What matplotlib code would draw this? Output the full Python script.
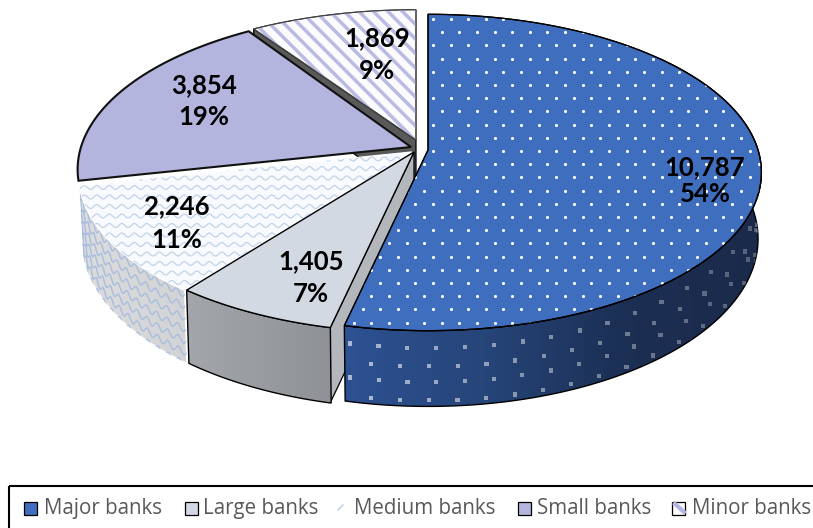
import numpy as np
import matplotlib
matplotlib.use('Agg')
import matplotlib.pyplot as plt
from matplotlib.patches import Polygon, Rectangle
from matplotlib.colors import LinearSegmentedColormap

names = ['Major banks', 'Large banks', 'Medium banks', 'Small banks', 'Minor banks']
values = [10787, 1405, 2246, 3854, 1869]

# tip of each exploded slice, in pixels
apex = {'Major banks': (428, 150), 'Large banks': (414, 152), 'Medium banks': (412, 152),
        'Small banks': (411, 147), 'Minor banks': (416, 140)}
yscale = {'Major banks': 1, 'Large banks': 1, 'Medium banks': 1, 'Small banks': 1, 'Minor banks': 0.96}
label_pos = {'Major banks': (705, 167, 194), 'Large banks': (311, 261, 294), 'Medium banks': (177, 206, 240),
             'Small banks': (204, 85, 117), 'Minor banks': (377, 38, 71)}
legend_x = {'Major banks': 44, 'Large banks': 203, 'Medium banks': 354, 'Small banks': 537, 'Minor banks': 692}
legend_box = {'Major banks': 24, 'Large banks': 185, 'Small banks': 518, 'Minor banks': 672}

RX, RY, K, DEPTH = 330, 155, 0.142, 65

total = sum(values)
angles = np.cumsum([0] + [v / total * 360 for v in values])
start = dict(zip(names, angles[:-1]))
end = dict(zip(names, angles[1:]))

fig = plt.figure(figsize=(8.13, 5.28), dpi=100)
ax = fig.add_axes([0, 0, 1, 1])
z = [10]


def nz():
    z[0] += 1
    return z[0]


def project(theta, name, drop=0.0):
    # clockwise from the top, front of the pie is a bit bigger
    t = np.radians(theta)
    u, v = np.sin(t), -np.cos(t)
    p = 1 / (1 - K * v)
    ax0, ay0 = apex[name]
    return ax0 + RX * u * p * (1 - 0.01 * drop), ay0 + RY * yscale[name] * v * p + DEPTH * p * drop


def top_poly(name):
    th = np.linspace(start[name], end[name], 120)
    x, y = project(th, name)
    return np.vstack([[apex[name]], np.column_stack([x, y])])


def wall_poly(name, t0=None):
    th = np.linspace(t0 if t0 is not None else start[name], end[name], 120)
    x, y = project(th, name)
    x2, y2 = project(th, name, 1.0)
    return np.vstack([np.column_stack([x, y]), np.column_stack([x2, y2])[::-1]])


def poly(pts, fc, ec='black', lw=0.9):
    p = Polygon(pts, closed=True, facecolor=fc, edgecolor=ec, linewidth=lw, zorder=nz(), joinstyle='miter')
    ax.add_patch(p)
    return p


def gradient(pts, colors):
    cmap = LinearSegmentedColormap.from_list('g', colors)
    x0, x1 = pts[:, 0].min(), pts[:, 0].max()
    y0, y1 = pts[:, 1].min(), pts[:, 1].max()
    im = ax.imshow(np.linspace(0, 1, 256).reshape(1, -1), cmap=cmap, extent=[x0, x1, y1, y0],
                   aspect='auto', zorder=nz())
    clip = Polygon(pts, closed=True, transform=ax.transData, facecolor='none', edgecolor='none')
    ax.add_patch(clip)
    im.set_clip_path(clip)


def arc_samples(name, t0, step):
    th = np.linspace(t0, end[name], 800)
    x, y = project(th, name)
    s = np.r_[0, np.cumsum(np.hypot(np.diff(x), np.diff(y)))]
    return np.interp(np.arange(0, s[-1], step), s, th)


# minor banks, with the dark cut face showing under its left edge
m = 'Minor banks'
xa, ya = project(start[m], m)
xb, yb = apex[m]
poly([(xa, ya), (xb, yb), (xb, yb + 60), (xa, ya + 50)], '#595959')
p = poly(top_poly(m), '#fbfbfe', ec='#404040', lw=0.8)
for c in np.arange(-420, 0, 14.5):
    ax.plot([230, 430], [230 + c, 430 + c], color='#b9bbe2', lw=2.5, zorder=nz(), clip_path=p)
poly(top_poly(m), 'none', ec='#404040', lw=0.8)

# small banks
poly(top_poly('Small banks'), '#b3b5de', ec='#111111', lw=1.5)

# medium banks wall and top
m = 'Medium banks'
pts = wall_poly(m)
gradient(pts, ['#dddddd', '#d2d3d5'])
clip = poly(pts, 'none', ec='white', lw=1.0)
for d in np.arange(0.06, 1.1, 0.16):
    th = np.linspace(start[m], end[m], 500)
    x, y = project(th, m, d)
    s = np.r_[0, np.cumsum(np.hypot(np.diff(x), np.diff(y)))]
    ax.plot(x, y + 3 * np.sin(s / 12 * 2 * np.pi), color='#a9bddf', lw=1.0, zorder=nz(), clip_path=clip)
p = poly(top_poly(m), '#f8fafd', ec='white', lw=1.0)
xw = np.arange(60, 430, 1.0)
for row in np.arange(140, 310, 9.5):
    ax.plot(xw, row + 2 * np.sin(xw / 12.5 * 2 * np.pi), color='#c3d2eb', lw=0.9, zorder=nz(), clip_path=p)

# large banks cut face goes behind major banks
m = 'Large banks'
xa, ya = project(start[m], m)
xb, yb = apex[m]
poly([(xb, yb), (xa, ya), (xa, ya + 75), (xb, yb + 75)], '#b3b6ba')

# major banks
m = 'Major banks'
pts = wall_poly(m, 50)
gradient(pts, ['#2d5192', '#264579', '#1c2f54', '#1a2a4a'])
clip = poly(pts, 'none', ec='black', lw=1.0)
for i, d in enumerate([0.23, 0.47, 0.68, 0.92, 1.12]):
    th = arc_samples(m, 50, 29) if i % 2 == 0 else arc_samples(m, 51.8, 29)
    x, y = project(th, m, d)
    a = 0.6 - 0.35 * (x - x.min()) / (x.max() - x.min())
    ax.scatter(x, y, s=9, marker='s', color='white', alpha=a, linewidths=0, zorder=nz(), clip_path=clip)
p = poly(top_poly(m), '#3f6ebf', ec='black', lw=0.9)
for i, row in enumerate(np.arange(19, 335, 13.2)):
    xd = np.arange(345, 770, 17.6) + (8.8 if i % 2 else 0)
    ax.scatter(xd, np.full_like(xd, row), s=5, color='white', linewidths=0, zorder=nz(), clip_path=p)
poly(top_poly(m), 'none', ec='black', lw=0.9)

# large banks wall and top
m = 'Large banks'
gradient(wall_poly(m), ['#a3a7ab', '#8e9296'])
poly(wall_poly(m), 'none', ec='black', lw=1.0)
poly(top_poly(m), '#d3d9e3', ec='black', lw=1.0)

# data labels
for name, v in zip(names, values):
    x, y1, y2 = label_pos[name]
    ax.text(x, y1, f'{v:,}', ha='center', va='center', fontsize=18.5, family='Lato', weight='bold',
            color='black', zorder=500)
    ax.text(x, y2, f'{v / total:.0%}', ha='center', va='center', fontsize=18.5, family='Lato', weight='bold',
            color='black', zorder=500)

# legend
ax.add_patch(Rectangle((9, 486), 815, 60, facecolor='none', edgecolor='black', lw=1.5, zorder=500))
colors = {'Major banks': '#3f6ebf', 'Large banks': '#d3d9e3', 'Small banks': '#b3b5de', 'Minor banks': '#fbfbfe'}
for name in names:
    ax.text(legend_x[name], 508.5, name, ha='left', va='center', fontsize=14.8, family='Open Sans',
            color='#595959', zorder=500)
    if name in legend_box:
        ax.add_patch(Rectangle((legend_box[name], 501.5), 13, 13, facecolor=colors[name], edgecolor='black',
                               lw=0.9, zorder=500))
ax.plot([675, 684], [504, 512], color='#b4b6e0', lw=3, zorder=501)
ax.plot([338, 343], [510, 505], color='#bccde9', lw=1.0, zorder=501)

ax.set_xlim(0, 813)
ax.set_ylim(528, 0)
ax.axis('off')
fig.savefig('out.png', dpi=100)
